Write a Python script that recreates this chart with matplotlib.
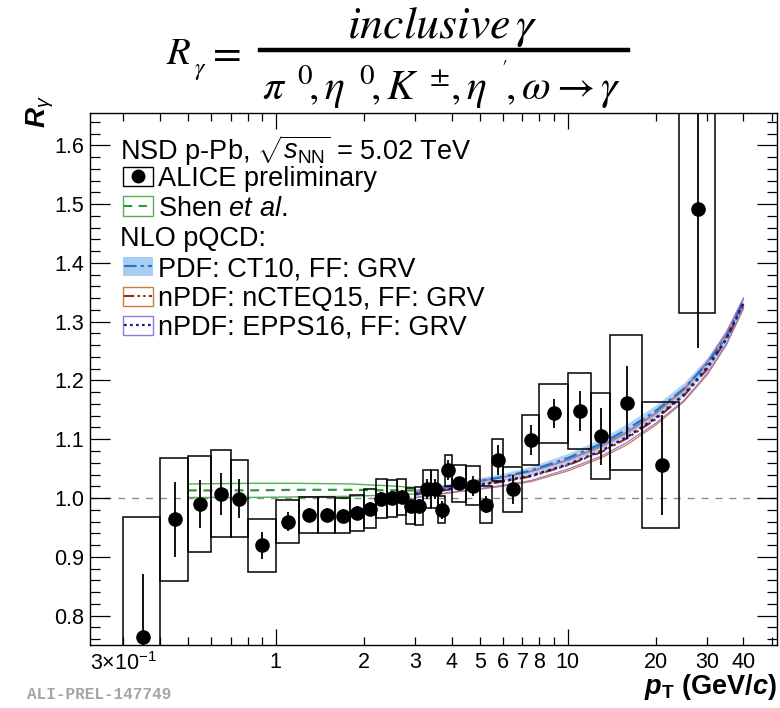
import numpy as np
import matplotlib
matplotlib.use("Agg")
import matplotlib.pyplot as plt
from matplotlib.patches import Rectangle
from matplotlib.lines import Line2D
from matplotlib.ticker import FixedLocator, FixedFormatter, MultipleLocator

plt.rcParams['font.family'] = ['Liberation Sans', 'DejaVu Sans']
plt.rcParams['mathtext.fontset'] = 'custom'
plt.rcParams['mathtext.rm'] = 'Liberation Sans'
plt.rcParams['mathtext.it'] = 'Liberation Sans:italic'
plt.rcParams['mathtext.bf'] = 'Liberation Sans:bold'
plt.rcParams['mathtext.bfit'] = 'Liberation Sans:italic:bold'

# ---- ALICE preliminary R_gamma, NSD p-Pb 5.02 TeV ----
pt_lo = [0.3, 0.4, 0.5, 0.6, 0.7, 0.8, 1.0, 1.2, 1.4, 1.6, 1.8, 2.0, 2.2, 2.4, 2.6, 2.8,
         3.0, 3.2, 3.4, 3.6, 3.8, 4.0, 4.5, 5.0, 5.5, 6.0, 7.0, 8.0, 10.0, 12.0, 14.0, 18.0, 24.0]
pt_hi = [0.4, 0.5, 0.6, 0.7, 0.8, 1.0, 1.2, 1.4, 1.6, 1.8, 2.0, 2.2, 2.4, 2.6, 2.8, 3.0,
         3.2, 3.4, 3.6, 3.8, 4.0, 4.5, 5.0, 5.5, 6.0, 7.0, 8.0, 10.0, 12.0, 14.0, 18.0, 24.0, 32.0]
r_gamma = [0.764, 0.9635, 0.990, 1.0074, 0.999, 0.920, 0.960, 0.971, 0.971, 0.970, 0.975,
           0.982, 0.999, 0.9995, 1.0017, 0.9865, 0.9865, 1.015, 1.015, 0.980, 1.047, 1.025,
           1.021, 0.989, 1.065, 1.015, 1.099, 1.144, 1.148, 1.105, 1.162, 1.056, 1.492]
stat_err = [0.107, 0.064, 0.041, 0.036, 0.033, 0.023, 0.016, 0.012, 0.012, 0.012, 0.012,
            0.012, 0.012, 0.012, 0.012, 0.012, 0.012, 0.017, 0.017, 0.015, 0.017, 0.011,
            0.017, 0.015, 0.025, 0.025, 0.025, 0.025, 0.034, 0.049, 0.062, 0.085, 0.236]
syst_err = [0.204, 0.105, 0.082, 0.074, 0.066, 0.045, 0.037, 0.031, 0.031, 0.030, 0.031,
            0.033, 0.033, 0.032, 0.031, 0.031, 0.033, 0.032, 0.032, 0.023, 0.027, 0.032,
            0.033, 0.032, 0.036, 0.038, 0.042, 0.050, 0.065, 0.073, 0.115, 0.107, 0.177]

# ---- Shen et al. ----
shen_pt = [0.5, 0.8, 1.2, 1.8, 2.4, 3.0]
shen_mid = [1.013, 1.013, 1.014, 1.014, 1.013, 1.013]
shen_up = [1.024, 1.025, 1.025, 1.024, 1.021, 1.018]
shen_lo = [1.001, 1.001, 1.002, 1.003, 1.005, 1.007]

# ---- NLO pQCD ----
nlo_pt = [3.0, 4.0, 5.0, 6.0, 7.5, 10.0, 13.0, 16.0, 20.0, 25.0, 30.0, 35.0, 40.0]
ct10_mid = [1.008, 1.020, 1.029, 1.036, 1.047, 1.068, 1.092, 1.117, 1.148, 1.186, 1.228, 1.275, 1.335]
ct10_up = [1.012, 1.025, 1.035, 1.042, 1.054, 1.076, 1.101, 1.127, 1.158, 1.196, 1.238, 1.285, 1.344]
ct10_lo = [1.004, 1.015, 1.023, 1.030, 1.040, 1.060, 1.083, 1.107, 1.138, 1.176, 1.218, 1.265, 1.326]
ncteq_mid = [1.006, 1.015, 1.022, 1.028, 1.037, 1.056, 1.078, 1.102, 1.134, 1.174, 1.219, 1.270, 1.330]
ncteq_up = [1.011, 1.021, 1.028, 1.035, 1.045, 1.064, 1.087, 1.111, 1.143, 1.183, 1.229, 1.280, 1.340]
ncteq_lo = [1.001, 1.009, 1.015, 1.020, 1.028, 1.046, 1.068, 1.091, 1.124, 1.164, 1.209, 1.261, 1.322]
epps_mid = [1.007, 1.016, 1.023, 1.029, 1.038, 1.057, 1.080, 1.104, 1.136, 1.176, 1.222, 1.272, 1.332]
epps_up = [1.013, 1.022, 1.030, 1.036, 1.046, 1.065, 1.089, 1.113, 1.145, 1.186, 1.232, 1.283, 1.340]
epps_lo = [1.001, 1.010, 1.016, 1.022, 1.030, 1.049, 1.071, 1.095, 1.127, 1.166, 1.212, 1.262, 1.324]

# axis tick labels
xmajor_ticks = [1, 10]
xmajor_labels = ["1", "10"]
xminor_ticks = [0.3, 0.4, 0.5, 0.6, 0.7, 0.8, 0.9, 2, 3, 4, 5, 6, 7, 8, 9, 20, 30, 40, 50]
xminor_labels = [r"3$\times$10$^{-1}$", "", "", "", "", "", "", "2", "3", "4", "5", "6",
                 "7", "8", "", "20", "30", "40", ""]

# colours
C_GREEN_BAND = "#55b055"
C_GREEN = "#2f9a2f"
C_BLUE_BAND = "#a9cdf0"
C_BLUE = "#2277cc"
C_BROWN_BAND = "#cf7a45"
C_BROWN = "#8a3515"
C_PURPLE_BAND = "#9478e0"
C_PURPLE = "#2a1580"

W, H = 780, 708
fig = plt.figure(figsize=(W / 100, H / 100), dpi=100)
AX_L, AX_R, AX_T, AX_B = 89.5, 776.7, 113.0, 645.0
ax = fig.add_axes([AX_L / W, 1 - AX_B / H, (AX_R - AX_L) / W, (AX_B - AX_T) / H])

ax.set_xscale('log')
ax.set_xlim(0.23, 52)
ax.set_ylim(0.75, 1.655)

# reference line at unity
ax.axhline(1.0, color="#8c8c8c", lw=1.0, ls=(0, (5, 5)), zorder=1)

# Shen et al. band
ax.plot(shen_pt, shen_up, color=C_GREEN_BAND, lw=1.0, zorder=2)
ax.plot(shen_pt, shen_lo, color=C_GREEN_BAND, lw=1.0, zorder=2)
ax.plot(shen_pt, shen_mid, color=C_GREEN, lw=1.6, ls=(0, (4, 3)), zorder=2)

# NLO pQCD bands and central values
ax.fill_between(nlo_pt, ct10_lo, ct10_up, color=C_BLUE_BAND, lw=0, alpha=0.9, zorder=2)
for lo, up, c in [(ncteq_lo, ncteq_up, C_BROWN_BAND), (epps_lo, epps_up, C_PURPLE_BAND)]:
    ax.plot(nlo_pt, lo, color=c, lw=0.9, zorder=3)
    ax.plot(nlo_pt, up, color=c, lw=0.9, zorder=3)
ax.plot(nlo_pt, ct10_mid, color=C_BLUE, lw=1.6, ls=(0, (6, 2, 1.5, 2)), zorder=4)
ax.plot(nlo_pt, ncteq_mid, color=C_BROWN, lw=1.6, ls=(0, (5, 1.5, 1.2, 1.5, 1.2, 1.5)), zorder=4)
ax.plot(nlo_pt, epps_mid, color=C_PURPLE, lw=1.8, ls=(0, (1.2, 1.5)), zorder=4)

# ALICE points with systematic boxes
pt_lo_a = np.array(pt_lo)
pt_hi_a = np.array(pt_hi)
pt_mid = 0.5 * (pt_lo_a + pt_hi_a)
r_a = np.array(r_gamma)
for lo, hi, r, s in zip(pt_lo_a, pt_hi_a, r_a, syst_err):
    ax.add_patch(Rectangle((lo, r - s), hi - lo, 2 * s, fill=False, ec="black", lw=1.1, zorder=5))
ax.errorbar(pt_mid, r_a, yerr=stat_err, fmt='o', color='black', ms=9.5, elinewidth=1.3,
            capsize=0, zorder=6)

# ticks
ax.xaxis.set_major_locator(FixedLocator(xmajor_ticks))
ax.xaxis.set_major_formatter(FixedFormatter(xmajor_labels))
ax.xaxis.set_minor_locator(FixedLocator(xminor_ticks))
ax.xaxis.set_minor_formatter(FixedFormatter(xminor_labels))
ax.yaxis.set_major_locator(MultipleLocator(0.1))
ax.yaxis.set_minor_locator(MultipleLocator(0.02))
ax.yaxis.set_major_formatter(matplotlib.ticker.FormatStrFormatter('%.1f'))
ax.tick_params(axis='both', which='both', direction='in', top=True, right=True,
               width=0.9, colors='black', labelsize=15.5)
ax.tick_params(axis='x', which='major', length=11.5, pad=5)
ax.tick_params(axis='x', which='minor', length=5.8, pad=5)
ax.tick_params(axis='y', which='major', length=14.5, pad=4)
ax.tick_params(axis='y', which='minor', length=7.2)
for sp in ax.spines.values():
    sp.set_linewidth(1.0)

# axis titles
fig.text(AX_R / W, 1 - 694 / H, r"$\mathbfit{p}_{\mathbf{T}}$ (GeV/$\mathbfit{c}$)",
         ha='right', va='baseline', fontsize=19.5, fontweight='bold')
fig.text(40 / W, 1 - 95 / H, r"$\mathbfit{R}_{\gamma}$", rotation=90, ha='center', va='top',
         fontsize=20, fontweight='bold')

# legend (drawn in axes fraction units)
def ax_xy(px, py):
    return ((px - AX_L) / (AX_R - AX_L), (AX_B - py) / (AX_B - AX_T))

LEG_FS = 19.5
row_y = [147, 176, 206, 236, 266, 296, 325]
box_x0, box_x1, box_h = 122.7, 152.7, 19.0
txt_sym_x, txt_plain_x = 158.5, 120.5

def leg_text(px, py, s, **kw):
    x, y = ax_xy(px, py)
    ax.text(x, y, s, transform=ax.transAxes, ha='left', va='center_baseline',
            fontsize=LEG_FS, zorder=10, **kw)

def leg_box(py, **kw):
    x0, y0 = ax_xy(box_x0, py + box_h / 2)
    x1, y1 = ax_xy(box_x1, py - box_h / 2)
    ax.add_patch(Rectangle((x0, y0), x1 - x0, y1 - y0, transform=ax.transAxes, zorder=10, **kw))

def leg_line(py, **kw):
    x0, y = ax_xy(box_x0 + 1, py)
    x1, _ = ax_xy(box_x1 - 1, py)
    ax.add_line(Line2D([x0, x1], [y, y], transform=ax.transAxes, zorder=11, **kw))

leg_text(txt_plain_x, row_y[0], r"NSD p-Pb, $\sqrt{s_{\mathrm{NN}}}$ = 5.02 TeV")

leg_box(row_y[1], fill=False, ec='black', lw=1.0)
cx, cy = ax_xy(0.5 * (box_x0 + box_x1), row_y[1])
ax.add_line(Line2D([cx], [cy], marker='o', ms=9, color='black', transform=ax.transAxes, zorder=11))
leg_text(txt_sym_x, row_y[1], "ALICE preliminary")

leg_box(row_y[2], fill=False, ec=C_GREEN_BAND, lw=1.0)
leg_line(row_y[2], color=C_GREEN, lw=1.5, ls=(0, (4, 3)))
leg_text(txt_sym_x, row_y[2], r"Shen $et$ $al.$")

leg_text(txt_plain_x, row_y[3], "NLO pQCD:")

leg_box(row_y[4], fill=True, fc=C_BLUE_BAND, ec='none')
leg_line(row_y[4], color=C_BLUE, lw=1.5, ls=(0, (6, 2, 1.5, 2)))
leg_text(txt_sym_x, row_y[4], "PDF: CT10, FF: GRV")

leg_box(row_y[5], fill=False, ec=C_BROWN_BAND, lw=1.0)
leg_line(row_y[5], color=C_BROWN, lw=1.5, ls=(0, (5, 1.5, 1.2, 1.5, 1.2, 1.5)))
leg_text(txt_sym_x, row_y[5], "nPDF: nCTEQ15, FF: GRV")

leg_box(row_y[6], fill=False, ec=C_PURPLE_BAND, lw=1.0)
leg_line(row_y[6], color=C_PURPLE, lw=1.6, ls=(0, (1.2, 1.5)))
leg_text(txt_sym_x, row_y[6], "nPDF: EPPS16, FF: GRV")

# definition of R_gamma above the frame
fig.text(166 / W, 1 - 64 / H, r"$R$", math_fontfamily='stix', fontsize=28,
         ha='left', va='baseline')
fig.text(194 / W, 1 - 75 / H, r"$\gamma$", math_fontfamily='stix', fontsize=17,
         ha='left', va='baseline')
fig.text(206 / W, 1 - 64 / H, r"$=$", math_fontfamily='stix', fontsize=30,
         ha='left', va='baseline')
fig.add_artist(Line2D([260 / W, 628 / W], [1 - 50 / H, 1 - 50 / H], color='black', lw=3.2))
fig.text(442 / W, 1 - 38 / H, r"$inclusive\,\gamma$", math_fontfamily='stix', fontsize=33,
         ha='center', va='baseline')
fig.text(442 / W, 1 - 100 / H,
         r"$\pi^{\;\;0}\!,\eta^{\;\;0}\!,K^{\;\pm}\!,\eta^{\;\;'}\!,\omega \rightarrow \gamma$",
         math_fontfamily='stix', fontsize=30, ha='center', va='baseline')

# preliminary tag
fig.text(27 / W, 1 - 699 / H, "ALI-PREL-147749", family=['Liberation Mono', 'DejaVu Sans Mono'],
         fontweight='bold', fontsize=11.5, color='#a5a5a5', ha='left', va='baseline')

fig.savefig("out.png", dpi=100)
